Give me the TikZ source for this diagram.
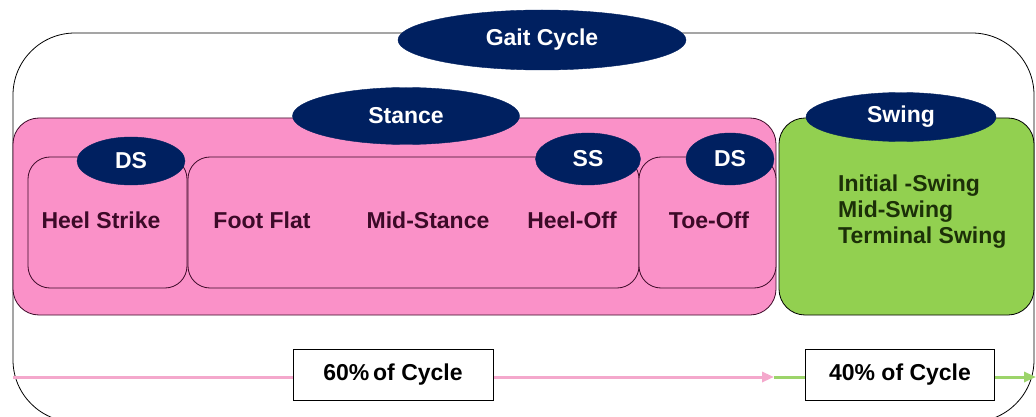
\documentclass[tikz,border=0pt]{standalone}
\usepackage{fontspec}
\setmainfont{Liberation Sans}
\usetikzlibrary{shapes.geometric,arrows.meta}
\definecolor{navy}{HTML}{002060}
\definecolor{stancepink}{HTML}{FA91C8}
\definecolor{swinggreen}{HTML}{92D050}
\definecolor{pinkline}{HTML}{F4A8CC}
\definecolor{greenline}{HTML}{9CD46A}
\definecolor{pinktext}{HTML}{3C0A28}
\definecolor{greentext}{HTML}{1C3008}
\tikzset{
	phase/.style={ellipse, fill=navy, draw=navy, text=white, inner sep=0pt},
	stancebox/.style={draw=pinktext, fill=stancepink, thick, rounded corners=22pt},
	sublabel/.style={text=pinktext},
	pct/.style={draw, thick, fill=white, minimum width=200pt, minimum height=51pt},
	flow/.style={line width=3pt, -{Triangle[length=12pt,width=10pt]}}
}
\begin{document}
\begin{tikzpicture}[x=1pt, y=-1pt, font=\fontsize{23}{27}\selectfont\bfseries]
	\useasboundingbox (0,0) rectangle (1036,417);
	
	% gait cycle frame
	\draw[thick, rounded corners=62pt] (13,33) rectangle (1034,422);
	\node[phase, minimum width=288pt, minimum height=60pt] (gait) at (542,40) {Gait Cycle};
	
	% stance and swing
	\draw[stancebox, rounded corners=26pt] (13,118) rectangle (776,315);
	\draw[thick, fill=swinggreen, rounded corners=26pt] (779,118) rectangle (1034,315);
	\node[phase, minimum width=227pt, minimum height=57pt] (stance) at (406,116) {Stance};
	\node[phase, minimum width=190pt, minimum height=49pt] (swing) at (901,117) {Swing};
	
	% sub phases
	\draw[stancebox] (28,157) rectangle (187,288);
	\draw[stancebox] (188,157) rectangle (639,288);
	\draw[stancebox] (639,157) rectangle (776,288);
	\node[phase, minimum width=108pt, minimum height=48pt] (ds1) at (131,161) {DS};
	\node[phase, minimum width=105pt, minimum height=52pt] (ss) at (588,159) {SS};
	\node[phase, minimum width=88pt, minimum height=52pt] (ds2) at (730,159) {DS};
	
	\node[sublabel] (hs) at (101,220) {Heel Strike};
	\node[sublabel] (ff) at (262,220) {Foot Flat};
	\node[sublabel] (ms) at (428,220) {Mid-Stance};
	\node[sublabel] (ho) at (572,220) {Heel-Off};
	\node[sublabel] (to) at (709,220) {Toe-Off};
	
	\node[text=greentext, align=left, anchor=north west, inner sep=0pt,
	      font=\fontsize{23}{26}\selectfont\bfseries] (swingphases) at (838,175)
	      {Initial -Swing\\Mid-Swing\\Terminal Swing};
	
	% cycle percentages
	\coordinate (c0) at (13,377);
	\coordinate (c1) at (774,377);
	\coordinate (c2) at (1036,377);
	\draw[flow, pinkline] (c0) -- (c1);
	\draw[flow, greenline] (c1) -- (c2);
	\node[pct] (p60) at (393,375) {60\%\,of Cycle};
	\node[pct, minimum width=189pt] (p40) at (900,375) {40\% of Cycle};
\end{tikzpicture}
\end{document}
